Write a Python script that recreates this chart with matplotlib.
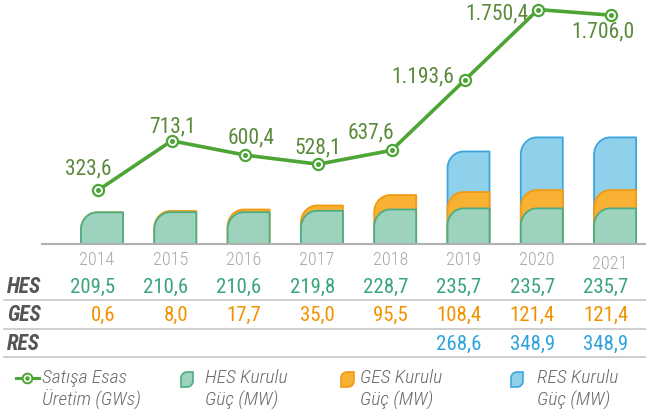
import matplotlib
matplotlib.use("Agg")
import matplotlib.pyplot as plt
from matplotlib.path import Path
from matplotlib.patches import PathPatch
from matplotlib.lines import Line2D
from matplotlib.transforms import Affine2D, blended_transform_factory

# ---------------------------------------------------------------------------
# DATA
# ---------------------------------------------------------------------------
years = ["2014", "2015", "2016", "2017", "2018", "2019", "2020", "2021"]
hes_mw = [209.5, 210.6, 210.6, 219.8, 228.7, 235.7, 235.7, 235.7]
ges_mw = [0.6, 8.0, 17.7, 35.0, 95.5, 108.4, 121.4, 121.4]
res_mw = [0, 0, 0, 0, 0, 268.6, 348.9, 348.9]
uretim_gwh = [323.6, 713.1, 600.4, 528.1, 637.6, 1193.6, 1750.4, 1706.0]

hes_labels = ["209,5", "210,6", "210,6", "219,8", "228,7", "235,7", "235,7", "235,7"]
ges_labels = ["0,6", "8,0", "17,7", "35,0", "95,5", "108,4", "121,4", "121,4"]
res_labels = ["", "", "", "", "", "268,6", "348,9", "348,9"]
uretim_labels = ["323,6", "713,1", "600,4", "528,1", "637,6", "1.193,6", "1.750,4", "1.706,0"]

# ---------------------------------------------------------------------------
# STYLE
# ---------------------------------------------------------------------------
plt.rcParams["font.family"] = ["Liberation Sans Narrow", "DejaVu Sans Condensed",
                               "Roboto Condensed", "Roboto", "DejaVu Sans"]

W, H = 646, 418
HES_FILL, HES_EDGE, HES_TXT = "#9dd2bd", "#4cad83", "#3aa57a"
GES_FILL, GES_EDGE, GES_TXT = "#f8b133", "#f29a14", "#f39200"
RES_FILL, RES_EDGE, RES_TXT = "#8fd0ea", "#3ea6de", "#2ea3dc"
LINE_C, LINE_TXT = "#4ca535", "#5a8a3a"
GRID_C = "#c6c6c6"

fig = plt.figure(figsize=(W / 100, H / 100), dpi=100)
# pixel coordinates (origin top-left) -> figure
px = Affine2D().scale(1 / W, -1 / H).translate(0, 1) + fig.transFigure

BASE_Y = 244
ax = fig.add_axes([42 / W, (H - BASE_Y) / H, (W - 42) / W, BASE_Y / H])
step = 73.3
ax.set_xlim((42 - 102) / step, (W - 102) / step)
ax.set_ylim(0, BASE_Y / 0.151)
for s in ["top", "right", "left"]:
    ax.spines[s].set_visible(False)
ax.spines["bottom"].set_color("#b0b0b0")
ax.spines["bottom"].set_linewidth(1.5)
ax.set_xticks([])
ax.set_yticks([])
ax.patch.set_alpha(0)

bar_w = 42 / step
rx = 16 / step
ry = 17 / 0.151
K = 0.5523


def rounded_bar(xc, h, fill, edge):
    x0, x1 = xc - bar_w / 2, xc + bar_w / 2
    r_y = min(ry, h)
    verts = [(x0, 0), (x0, h - r_y),
             (x0, h - r_y + K * r_y), (x0 + rx - K * rx, h), (x0 + rx, h),
             (x1, h), (x1, 0), (x0, 0)]
    codes = [Path.MOVETO, Path.LINETO, Path.CURVE4, Path.CURVE4, Path.CURVE4,
             Path.LINETO, Path.LINETO, Path.CLOSEPOLY]
    ax.add_patch(PathPatch(Path(verts, codes), facecolor=fill, edgecolor=edge,
                           lw=1.3, joinstyle="round", zorder=2))


for i in range(len(years)):
    total = hes_mw[i] + ges_mw[i] + res_mw[i]
    if res_mw[i] > 0:
        rounded_bar(i, total, RES_FILL, RES_EDGE)
    rounded_bar(i, hes_mw[i] + ges_mw[i], GES_FILL, GES_EDGE)
    rounded_bar(i, hes_mw[i], HES_FILL, HES_EDGE)

# production line on its own scale
ax2 = ax.twinx()
ax2.set_ylim(-13 / 0.1265, 231 / 0.1265)
ax2.set_axis_off()
xs = [i - 0.05 for i in range(len(years))]
ax2.plot(xs, uretim_gwh, color=LINE_C, lw=2.6, zorder=3, solid_capstyle="round")
ax2.plot(xs, uretim_gwh, "o", ms=8, mfc="white", mec=LINE_C, mew=1.6, zorder=4)
ax2.plot(xs, uretim_gwh, "o", ms=2.6, color=LINE_C, zorder=5)

label_off = [(-10, 21), (1, 14), (6, 17), (0, 16), (-21, 17), (-42, 3), (-41, -4), (-8, -17)]
for x, v, t, (dx, dy) in zip(xs, uretim_gwh, uretim_labels, label_off):
    ax2.annotate(t, (x, v), xytext=(dx, dy), textcoords="offset pixels",
                 ha="center", va="center", fontsize=15.5, color=LINE_TXT, zorder=6)

# ---------------------------------------------------------------------------
# TABLE under the chart
# ---------------------------------------------------------------------------
tab = blended_transform_factory(ax.transData, px)
for i, y in enumerate(years):
    yy = 264 if i == len(years) - 1 else 260
    fig.text(i - 5 / step, yy, y, transform=tab, ha="center", va="center",
             fontsize=13, fontweight="light", color="#a8a8a8")

rows = [("HES", hes_labels, HES_TXT, 287), ("GES", ges_labels, GES_TXT, 315),
        ("RES", res_labels, RES_TXT, 344)]
for name, labels, col, yy in rows:
    fig.text(7, yy, name, transform=px, ha="left", va="center", fontsize=15.5,
             fontweight="bold", fontstyle="italic", color="#555555")
    for i, t in enumerate(labels):
        fig.text(i + 13 / step, yy, t, transform=tab, ha="right", va="center",
                 fontsize=15, color=col)

for yy in [300, 329, 357]:
    fig.add_artist(Line2D([4, W], [yy, yy], transform=px, color=GRID_C, lw=1.2))

# ---------------------------------------------------------------------------
# LEGEND
# ---------------------------------------------------------------------------
LEG_C = "#6a6a6a"
fig.add_artist(Line2D([16, 39], [378, 378], transform=px, color=LINE_C, lw=2.2))
fig.add_artist(Line2D([27], [378], transform=px, marker="o", ms=7, mfc="white",
                      mec=LINE_C, mew=1.4))
fig.add_artist(Line2D([27], [378], transform=px, marker="o", ms=2.2, color=LINE_C))


def leaf(x0, y0, w, h, fill, edge):
    r = 6
    verts = [(x0, y0 + h), (x0, y0 + r), (x0, y0 + r - K * r), (x0 + r - K * r, y0),
             (x0 + r, y0), (x0 + w, y0), (x0 + w, y0 + h - r),
             (x0 + w, y0 + h - r + K * r), (x0 + w - r + K * r, y0 + h), (x0 + w - r, y0 + h),
             (x0, y0 + h), (x0, y0 + h)]
    codes = [Path.MOVETO, Path.LINETO, Path.CURVE4, Path.CURVE4, Path.CURVE4,
             Path.LINETO, Path.LINETO, Path.CURVE4, Path.CURVE4, Path.CURVE4,
             Path.LINETO, Path.CLOSEPOLY]
    fig.add_artist(PathPatch(Path(verts, codes), transform=px, facecolor=fill,
                             edgecolor=edge, lw=1.2))


leaf(181, 372, 12, 15, HES_FILL, HES_EDGE)
leaf(341, 372, 13, 15, GES_FILL, GES_EDGE)
leaf(511, 372, 12, 15, RES_FILL, RES_EDGE)

legend_texts = [(42, "Satışa Esas", "Üretim (GWs)"),
                (205, "HES Kurulu", "Güç (MW)"),
                (360, "GES Kurulu", "Güç (MW)"),
                (537, "RES Kurulu", "Güç (MW)")]
for x, l1, l2 in legend_texts:
    fig.text(x, 378, l1, transform=px, ha="left", va="center", fontsize=14,
             fontweight="light", fontstyle="italic", color=LEG_C)
    fig.text(x, 400, l2, transform=px, ha="left", va="center", fontsize=14,
             fontweight="light", fontstyle="italic", color=LEG_C)

fig.savefig("out.png", dpi=100)
